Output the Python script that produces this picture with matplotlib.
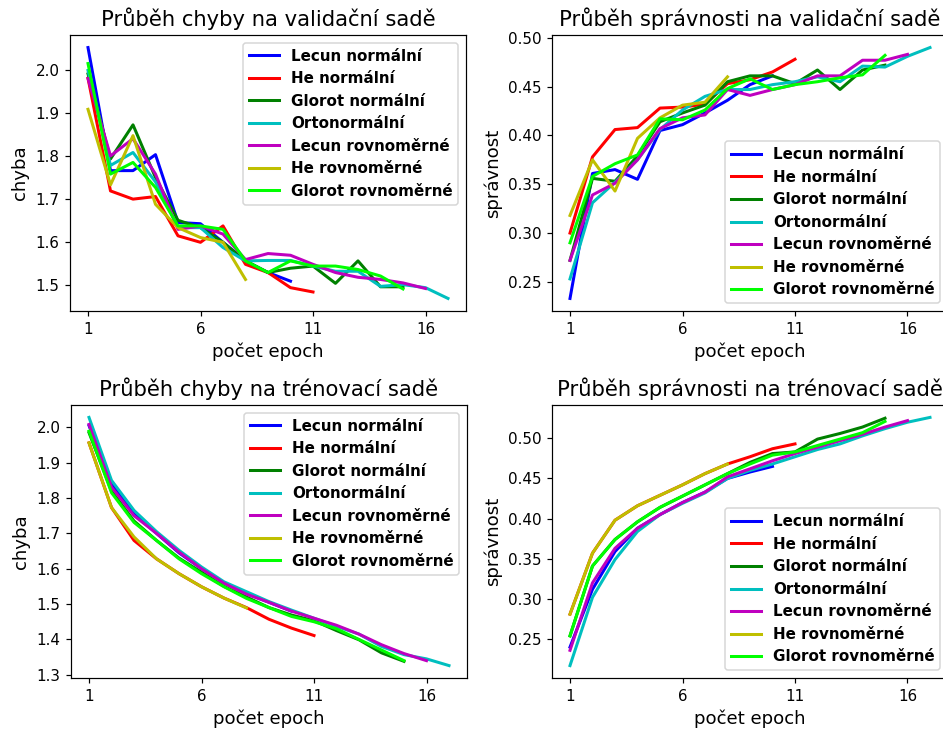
import matplotlib
matplotlib.use("Agg")
import matplotlib.pyplot as plt
import numpy as np

labels = ["Lecun normální", "He normální", "Glorot normální", "Ortonormální",
          "Lecun rovnoměrné", "He rovnoměrné", "Glorot rovnoměrné"]
colors = ["b", "r", "g", "c", "m", "y", "#00ff00"]

# validation loss
val_loss = [
    [2.051, 1.766, 1.766, 1.803, 1.646, 1.643, 1.60, 1.557, 1.53, 1.51],
    [1.98, 1.719, 1.70, 1.706, 1.615, 1.60, 1.638, 1.549, 1.53, 1.495, 1.485],
    [1.99, 1.793, 1.872, 1.75, 1.651, 1.634, 1.60, 1.557, 1.53, 1.54, 1.545, 1.505, 1.557, 1.497, 1.497],
    [1.998, 1.778, 1.808, 1.74, 1.634, 1.634, 1.588, 1.557, 1.558, 1.558, 1.545, 1.533, 1.533, 1.498, 1.502, 1.495, 1.47],
    [1.979, 1.80, 1.84, 1.758, 1.63, 1.638, 1.619, 1.56, 1.574, 1.57, 1.549, 1.53, 1.519, 1.514, 1.506, 1.493],
    [1.908, 1.733, 1.847, 1.688, 1.634, 1.611, 1.60, 1.514],
    [2.014, 1.758, 1.785, 1.727, 1.638, 1.638, 1.63, 1.557, 1.53, 1.557, 1.545, 1.545, 1.537, 1.522, 1.492],
]

# validation accuracy
val_acc = [
    [0.233, 0.361, 0.365, 0.355, 0.405, 0.411, 0.423, 0.436, 0.452, 0.461],
    [0.300, 0.378, 0.406, 0.408, 0.428, 0.429, 0.432, 0.453, 0.457, 0.465, 0.478],
    [0.272, 0.356, 0.353, 0.379, 0.414, 0.423, 0.431, 0.455, 0.461, 0.461, 0.453, 0.467, 0.447, 0.467, 0.472],
    [0.253, 0.331, 0.352, 0.375, 0.406, 0.426, 0.440, 0.447, 0.447, 0.452, 0.455, 0.460, 0.455, 0.471, 0.470, 0.481, 0.490],
    [0.272, 0.339, 0.351, 0.375, 0.407, 0.418, 0.421, 0.447, 0.441, 0.447, 0.452, 0.461, 0.461, 0.477, 0.477, 0.483],
    [0.318, 0.375, 0.343, 0.397, 0.418, 0.431, 0.434, 0.460],
    [0.290, 0.358, 0.371, 0.380, 0.417, 0.416, 0.426, 0.448, 0.458, 0.447, 0.452, 0.455, 0.459, 0.462, 0.482],
]

# training loss
train_loss = [
    [2.005, 1.84, 1.755, 1.70, 1.645, 1.60, 1.56, 1.53, 1.505, 1.48],
    [1.956, 1.773, 1.68, 1.628, 1.586, 1.549, 1.517, 1.49, 1.457, 1.432, 1.411],
    [1.985, 1.82, 1.735, 1.68, 1.63, 1.59, 1.55, 1.52, 1.49, 1.469, 1.453, 1.425, 1.399, 1.362, 1.338],
    [2.028, 1.85, 1.765, 1.705, 1.652, 1.605, 1.563, 1.535, 1.507, 1.483, 1.46, 1.437, 1.415, 1.38, 1.357, 1.345, 1.326],
    [2.008, 1.831, 1.75, 1.70, 1.647, 1.60, 1.559, 1.528, 1.505, 1.48, 1.46, 1.44, 1.415, 1.385, 1.36, 1.34],
    [1.956, 1.773, 1.69, 1.628, 1.586, 1.549, 1.517, 1.489],
    [1.989, 1.815, 1.731, 1.68, 1.628, 1.586, 1.549, 1.516, 1.49, 1.465, 1.45, 1.43, 1.40, 1.37, 1.34],
]

# training accuracy
train_acc = [
    [0.240, 0.312, 0.359, 0.388, 0.405, 0.420, 0.433, 0.450, 0.458, 0.465],
    [0.281, 0.357, 0.398, 0.416, 0.429, 0.442, 0.456, 0.468, 0.477, 0.487, 0.493],
    [0.254, 0.341, 0.374, 0.396, 0.414, 0.428, 0.442, 0.456, 0.470, 0.481, 0.483, 0.499, 0.506, 0.514, 0.525],
    [0.217, 0.302, 0.349, 0.384, 0.405, 0.419, 0.432, 0.450, 0.460, 0.468, 0.477, 0.486, 0.493, 0.503, 0.512, 0.520, 0.526],
    [0.236, 0.320, 0.363, 0.388, 0.405, 0.420, 0.433, 0.452, 0.462, 0.472, 0.481, 0.489, 0.497, 0.505, 0.514, 0.522],
    [0.281, 0.357, 0.398, 0.416, 0.429, 0.442, 0.456, 0.468],
    [0.254, 0.341, 0.374, 0.396, 0.414, 0.428, 0.442, 0.456, 0.468, 0.479, 0.483, 0.491, 0.499, 0.507, 0.521],
]

titles = ["Průběh chyby na validační sadě", "Průběh správnosti na validační sadě",
          "Průběh chyby na trénovací sadě", "Průběh správnosti na trénovací sadě"]
ylabels = ["chyba", "správnost", "chyba", "správnost"]
xlabel = "počet epoch"
xticks = [1, 6, 11, 16]

W, H = 943, 731
DPI = 108.5
fig = plt.figure(figsize=(W / DPI, H / DPI), dpi=DPI)

boxes = [(70, 35, 466, 311), (552, 35, 948, 311), (71, 405, 467, 678), (552, 405, 948, 678)]
datasets = [val_loss, val_acc, train_loss, train_acc]
legend_locs = ["upper right", "lower right", "upper right", "lower right"]

for (x0, y0, x1, y1), data, title, ylab, loc in zip(boxes, datasets, titles, ylabels, legend_locs):
    ax = fig.add_axes([x0 / W, 1 - y1 / H, (x1 - x0) / W, (y1 - y0) / H])
    for series, lab, col in zip(data, labels, colors):
        ep = np.arange(1, len(series) + 1)
        ax.plot(ep, series, color=col, lw=2, label=lab)
    ax.set_title(title, fontsize=14)
    ax.set_ylabel(ylab, fontsize=12)
    ax.set_xlabel(xlabel, fontsize=12)
    ax.set_xticks(xticks)
    ax.legend(loc=loc, prop={"weight": "bold", "size": 10})

fig.savefig("out.png", dpi=DPI)
